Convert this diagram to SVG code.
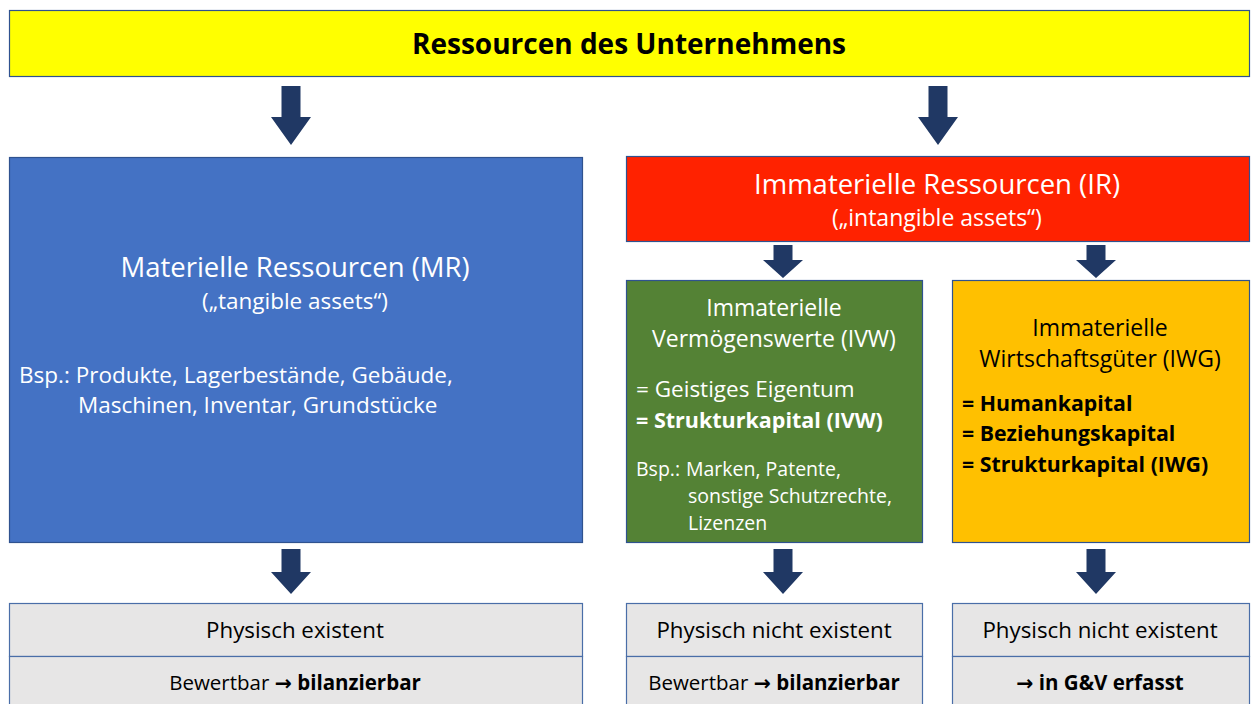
<svg xmlns="http://www.w3.org/2000/svg" width="1256" height="704" viewBox="0 0 1256 704">
<style>
text{font-family:"Open Sans","Noto Sans","Liberation Sans",sans-serif;}
.box{stroke:#2f528f;stroke-width:1.2;}
.gray{fill:#e7e6e6;stroke:#4a6ea8;stroke-width:1.2;}
.w{fill:#fff;}
.k{fill:#000;}
.c{text-anchor:middle;}
.b{font-weight:bold;}
.ar{font-family:"DejaVu Sans",sans-serif;font-weight:bold;}
.arr{fill:#203864;}
</style>
<defs>
<path id="bigArrow" d="M-9.5,0 H9.5 V31 H20 L0,59 L-20,31 H-9.5 Z"/>
<path id="smArrow" d="M-9.5,0 H9.5 V15 H20 L0,33 L-20,15 H-9.5 Z"/>
<path id="botArrow" d="M-9.5,0 H9.5 V23 H20 L0,45 L-20,23 H-9.5 Z"/>
</defs>
<g id="connectors" class="arr">
<use href="#bigArrow" x="291" y="86"/>
<use href="#bigArrow" x="938" y="86"/>
<use href="#smArrow" x="783" y="245"/>
<use href="#smArrow" x="1096" y="245"/>
<use href="#botArrow" x="291" y="549"/>
<use href="#botArrow" x="783" y="549"/>
<use href="#botArrow" x="1096" y="549"/>
</g>
<g id="title">
<rect class="box" x="9.5" y="10.5" width="1240" height="66" fill="#ffff00"/>
<text class="k c b" x="629" y="54" font-size="28">Ressourcen des Unternehmens</text>
</g>
<g id="mr">
<rect class="box" x="9.5" y="157.5" width="573" height="385" fill="#4472c4"/>
<text class="w c" x="295" y="277" font-size="27.5">Materielle Ressourcen (MR)</text>
<text class="w c" x="295" y="309" font-size="22.5">(„tangible assets“)</text>
<text class="w" x="19" y="383" font-size="22.5">Bsp.: Produkte, Lagerbestände, Gebäude,</text>
<text class="w" x="78" y="413" font-size="22.5">Maschinen, Inventar, Grundstücke</text>
</g>
<g id="ir">
<rect class="box" x="626.5" y="156.5" width="623" height="85" fill="#ff2200"/>
<text class="w c" x="937" y="194" font-size="27.5">Immaterielle Ressourcen (IR)</text>
<text class="w c" x="937" y="226" font-size="23">(„intangible assets“)</text>
</g>
<g id="ivw">
<rect class="box" x="626.5" y="280.5" width="296" height="262" fill="#548235"/>
<text class="w c" x="774" y="316" font-size="23">Immaterielle</text>
<text class="w c" x="774" y="347" font-size="23">Vermögenswerte (IVW)</text>
<text class="w" x="636" y="397" font-size="22.5">= Geistiges Eigentum</text>
<text class="w b" x="636" y="428" font-size="21.5">= Strukturkapital (IVW)</text>
<text class="w" x="636" y="476" font-size="19.5">Bsp.:<tspan x="686">Marken, Patente,</tspan></text>
<text class="w" x="688" y="503" font-size="19.5">sonstige Schutzrechte,</text>
<text class="w" x="688" y="530" font-size="19.5">Lizenzen</text>
</g>
<g id="iwg">
<rect class="box" x="952.5" y="280.5" width="297" height="262" fill="#ffc000"/>
<text class="k c" x="1100" y="336" font-size="23">Immaterielle</text>
<text class="k c" x="1100" y="367" font-size="23">Wirtschaftsgüter (IWG)</text>
<text class="k b" x="962" y="411" font-size="21.3">= Humankapital</text>
<text class="k b" x="962" y="441" font-size="21.3">= Beziehungskapital</text>
<text class="k b" x="962" y="472" font-size="21.3">= Strukturkapital (IWG)</text>
</g>
<g id="bot-mr">
<rect class="gray" x="9.5" y="603.5" width="573" height="53"/>
<rect class="gray" x="9.5" y="656.5" width="573" height="53"/>
<text class="k c" x="295" y="638" font-size="22.3">Physisch existent</text>
<text class="k c" x="295" y="690" font-size="20.5">Bewertbar <tspan class="ar">→</tspan> <tspan class="b">bilanzierbar</tspan></text>
</g>
<g id="bot-ivw">
<rect class="gray" x="626.5" y="603.5" width="296" height="53"/>
<rect class="gray" x="626.5" y="656.5" width="296" height="53"/>
<text class="k c" x="774" y="638" font-size="22.3">Physisch nicht existent</text>
<text class="k c" x="774" y="690" font-size="20.5">Bewertbar <tspan class="ar">→</tspan> <tspan class="b">bilanzierbar</tspan></text>
</g>
<g id="bot-iwg">
<rect class="gray" x="952.5" y="603.5" width="297" height="53"/>
<rect class="gray" x="952.5" y="656.5" width="297" height="53"/>
<text class="k c" x="1100" y="638" font-size="22.3">Physisch nicht existent</text>
<text class="k c b" x="1100" y="690" font-size="20.5"><tspan class="ar">→</tspan> in G&amp;V erfasst</text>
</g>
</svg>
